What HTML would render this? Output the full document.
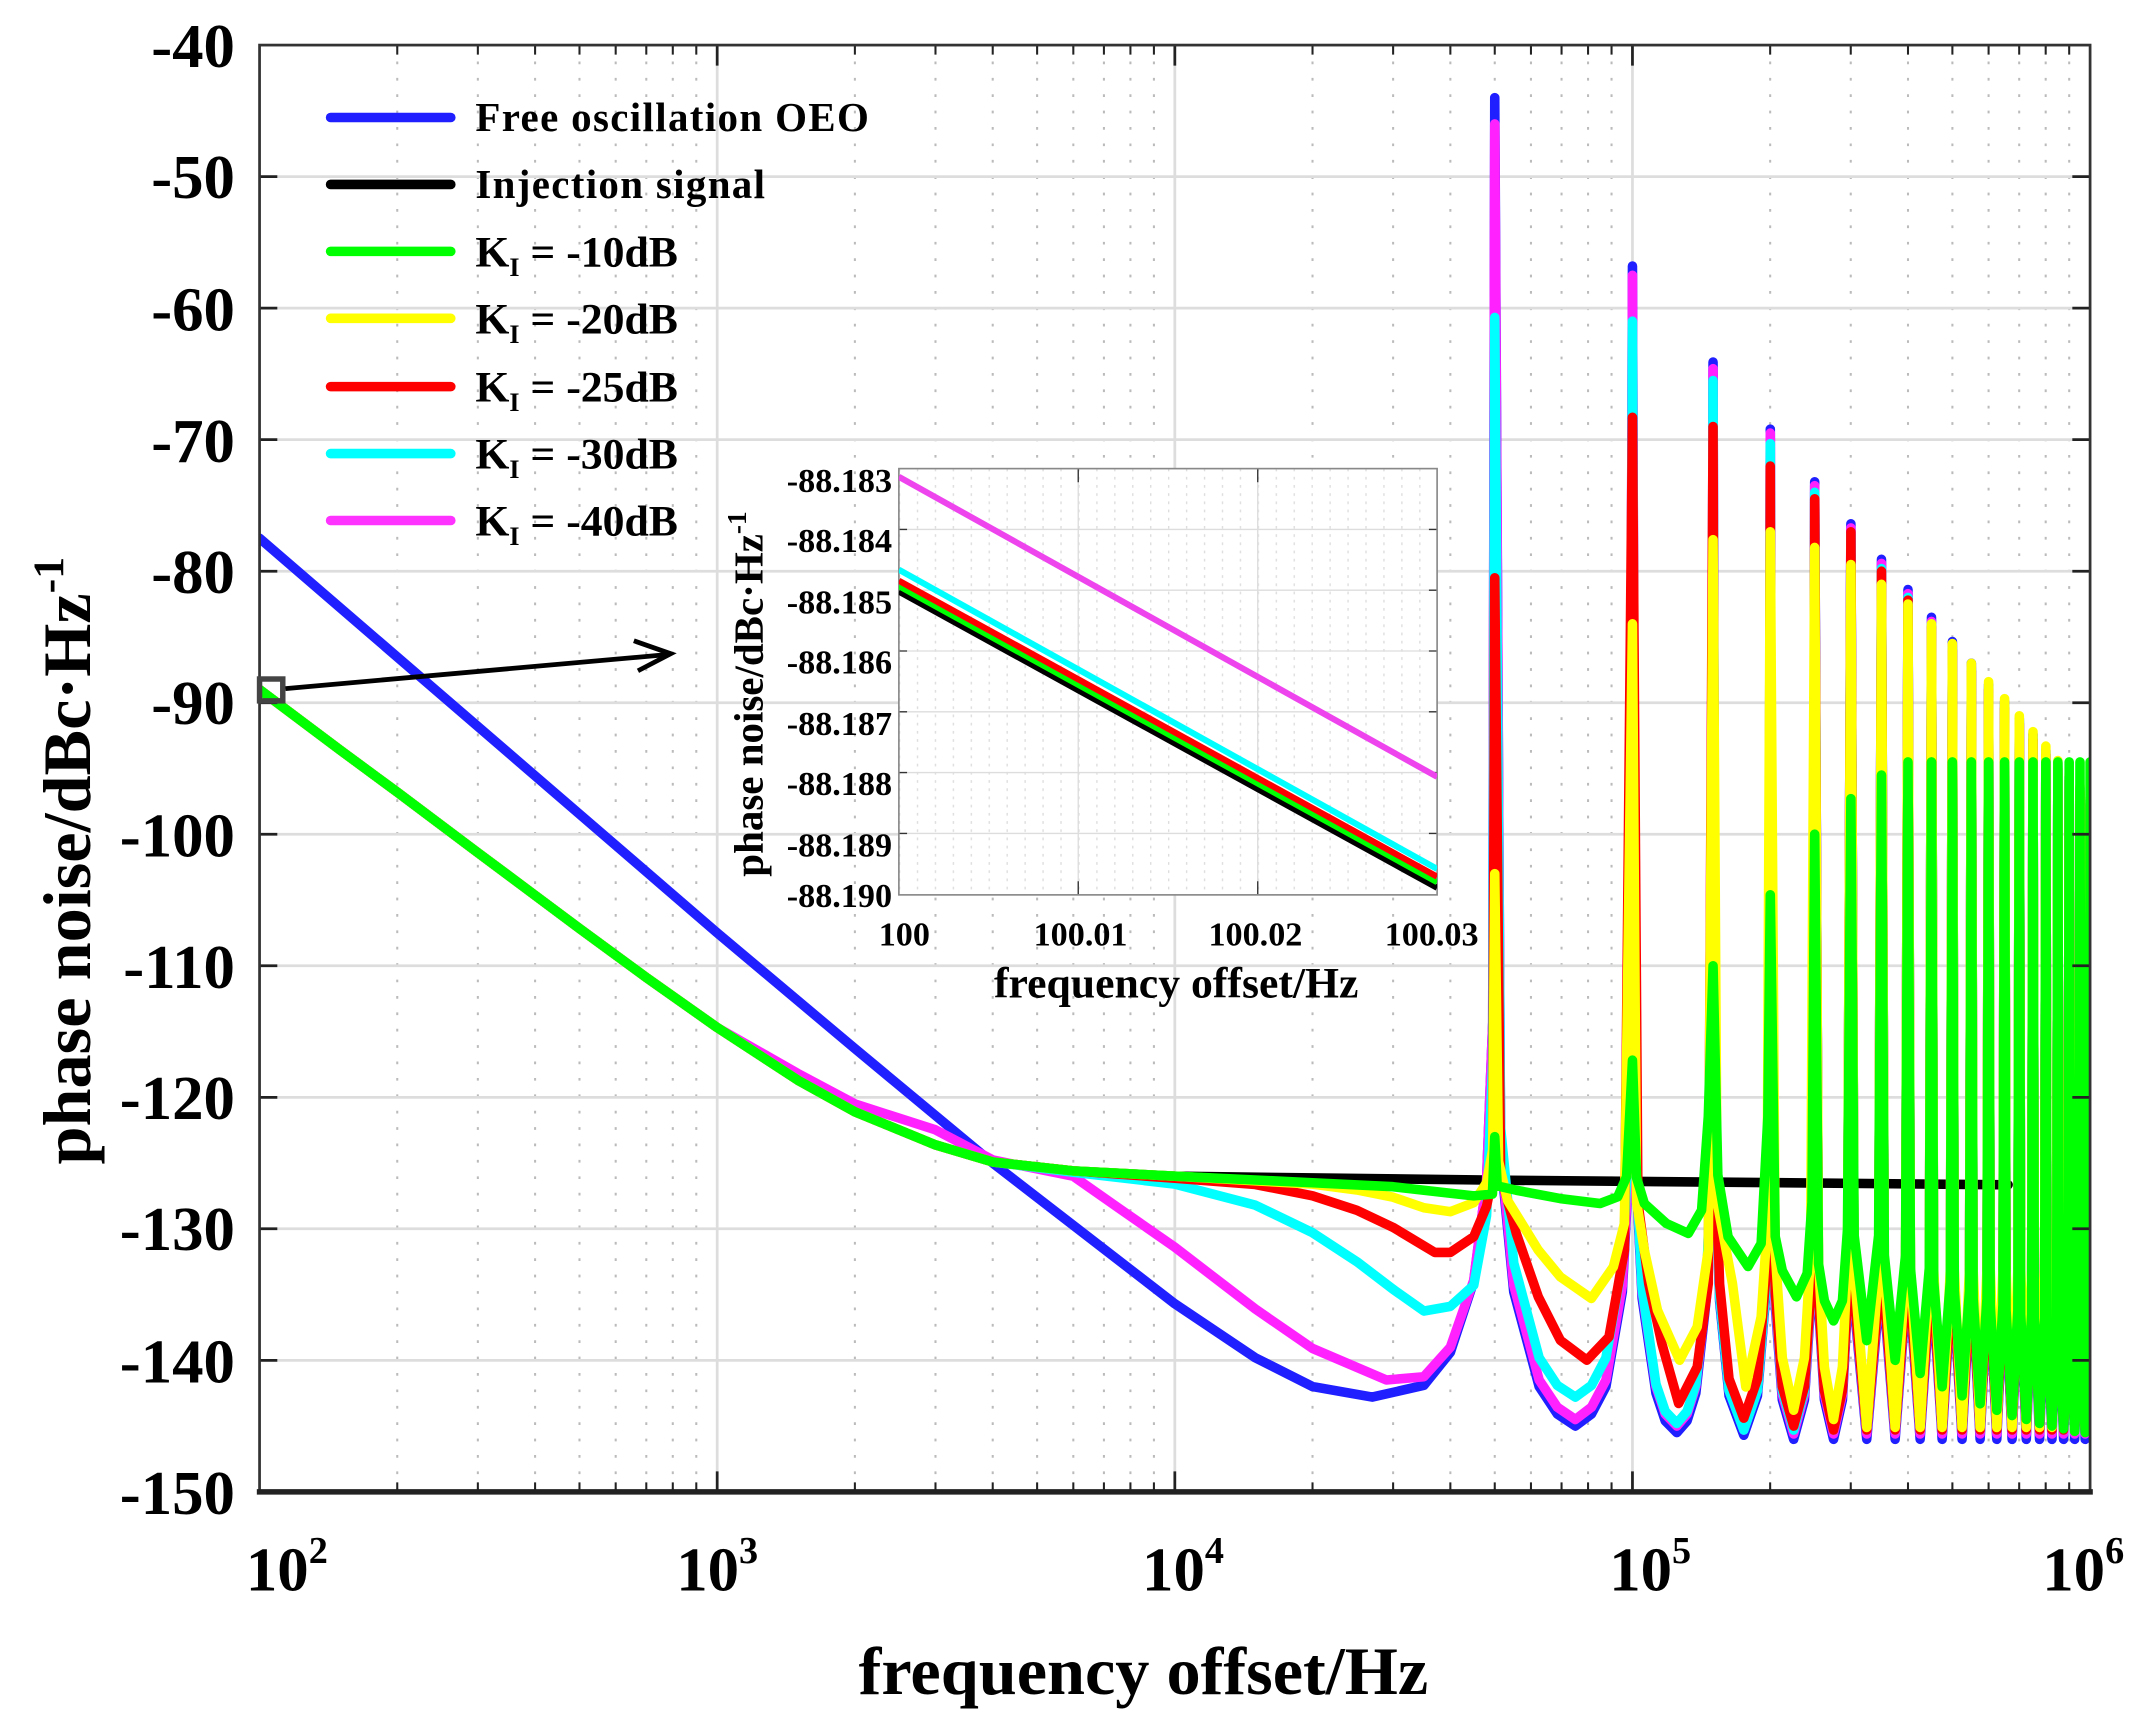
<!DOCTYPE html>
<html><head><meta charset="utf-8"><style>
html,body{margin:0;padding:0;background:#fff;}
svg{display:block;}
text{font-family:"Liberation Serif","Times New Roman",serif;font-weight:bold;fill:#000;}
</style></head><body>
<svg width="2142" height="1731" viewBox="0 0 1568 1267" preserveAspectRatio="none" xmlns="http://www.w3.org/2000/svg">
<defs>
<clipPath id="cp"><rect x="190" y="33" width="1340" height="1059"/></clipPath>
<clipPath id="cpi"><rect x="658" y="343" width="394" height="312"/></clipPath>
<pattern id="ip" x="658" y="343" width="13.133" height="6" patternUnits="userSpaceOnUse"><rect x="0" y="0" width="1" height="2" fill="#ddd"/></pattern>
</defs>
<rect x="0" y="0" width="1568" height="1267" fill="#fff"/>
<!-- grid -->
<path fill="none" stroke="#bbb" stroke-width="1.5" stroke-dasharray="2,10" d="M290.8 33V1092M349.8 33V1092M391.7 33V1092M424.2 33V1092M450.7 33V1092M473.1 33V1092M492.5 33V1092M509.7 33V1092M625.8 33V1092M684.8 33V1092M726.7 33V1092M759.2 33V1092M785.7 33V1092M808.1 33V1092M827.5 33V1092M844.7 33V1092M960.8 33V1092M1019.8 33V1092M1061.7 33V1092M1094.2 33V1092M1120.7 33V1092M1143.1 33V1092M1162.5 33V1092M1179.7 33V1092M1295.8 33V1092M1354.8 33V1092M1396.7 33V1092M1429.2 33V1092M1455.7 33V1092M1478.1 33V1092M1497.5 33V1092M1514.7 33V1092"/>
<path fill="none" stroke="#ddd" stroke-width="2" d="M525 33V1092M860 33V1092M1195 33V1092M190 129.3H1530M190 225.5H1530M190 321.8H1530M190 418.1H1530M190 514.4H1530M190 610.6H1530M190 706.9H1530M190 803.2H1530M190 899.4H1530M190 995.7H1530"/>
<!-- curves -->
<g clip-path="url(#cp)" fill="none" stroke-width="7" stroke-linejoin="round" stroke-linecap="round">
<path stroke="#1f1fff" d="M190,394 L525,682.8 L625.8,767.5 L726.7,851.3 L860,954.3 L918.9,993.8 L960.8,1014.9 L1004.5,1022.6 L1042.3,1014 L1061.7,989.9 L1078.8,937.9 L1088.2,863.8 L1092.7,748.3 L1094.2,71.5 L1098.5,846.5 L1108.1,945.6 L1126.7,1014.9 L1140,1035 L1153.2,1043.8 L1165,1035 L1175.6,1014.9 L1187.6,945.6 L1192.8,846.5 L1195,194.7 L1197.2,851.3 L1202.1,950.4 L1212.2,1019.7 L1219,1040 L1227.5,1048.6 L1235,1040 L1241.4,1019.7 L1249.1,950.4 L1252.6,851.3 L1254,265 L1255.5,853.2 L1258.8,952.4 L1265.7,1021.6 L1276.5,1050.5 L1286.5,1021.6 L1292.2,952.4 L1294.8,853.2 L1295.9,314.1 L1297,856.1 L1299.5,955.3 L1304.7,1024.6 L1313,1053.5 L1320.9,1024.6 L1325.4,955.3 L1327.5,856.1 L1328.4,352.6 L1331.2,955.3 L1335.5,1024.6 L1342.2,1053.5 L1348.7,1024.6 L1352.4,955.3 L1354.9,383.4 L1357.3,955.3 L1366.5,1053.5 L1375.2,955.3 L1377.3,409.4 L1379.4,955.3 L1387.3,1053.5 L1394.9,955.3 L1396.7,431.5 L1398.5,955.3 L1405.6,1053.5 L1412.3,955.3 L1413.9,451.8 L1415.5,955.3 L1421.7,1053.5 L1427.7,955.3 L1429.2,469.6 L1430.6,955.3 L1436.3,1053.5 L1441.7,955.3 L1443.1,485.4 L1444.4,955.3 L1449.5,1053.5 L1454.5,955.3 L1455.7,500.9 L1456.9,955.3 L1461.7,1053.5 L1466.2,955.3 L1467.4,513.4 L1468.5,955.3 L1472.9,1053.5 L1477.1,955.3 L1478.2,525.9 L1479.2,955.3 L1483.3,1053.5 L1487.2,955.3 L1488.2,537.4 L1489.2,955.3 L1493,1053.5 L1496.7,955.3 L1497.6,549 L1498.5,955.3 L1502.1,1053.5 L1505.5,955.3 L1506.4,558.6 L1507.2,955.3 L1510.6,1053.5 L1513.9,955.3 L1514.7,568.2 L1515.5,955.3 L1518.7,1053.5 L1521.8,955.3 L1522.6,576.9 L1523.3,955.3 L1526.4,1053.5 L1529.3,955.3 L1530,585.6"/>
<path stroke="#000" d="M190,504.7 L249,549 L290.8,579.8 L349.8,624.1 L424.2,679.6 L473.1,715.5 L525,752.1 L584,790.6 L625.8,813.8 L684.8,838 L726.7,850.5 L785.6,857 L860,860.9 L1094.2,863.8 L1470,867.2"/>
<path stroke="#ff22ff" d="M190,504.7 L249,549 L290.8,579.8 L349.8,624.1 L424.2,679.6 L473.1,715.5 L525,752.1 L584,785.7 L625.8,808 L684.8,827 L726.7,849 L785.6,860.9 L820,885 L860,912.9 L918.9,958.1 L960.8,987 L1014.9,1010.1 L1042.3,1007.7 L1061.7,986.1 L1078.8,937 L1088.2,863.8 L1092.7,748.3 L1094.2,90.7 L1098.5,841.6 L1108.1,940.8 L1126.7,1010.1 L1140,1030 L1153.2,1039 L1165,1030 L1175.6,1010.1 L1187.6,940.8 L1192.8,841.6 L1195,201.5 L1197.2,846.5 L1202.1,945.6 L1212.2,1014.9 L1219,1035 L1227.5,1043.8 L1235,1035 L1241.4,1014.9 L1249.1,945.6 L1252.6,846.5 L1254,269.8 L1255.5,849.4 L1258.8,948.5 L1265.7,1017.8 L1276.5,1046.7 L1286.5,1017.8 L1292.2,948.5 L1294.8,849.4 L1295.9,317 L1297,852.2 L1299.5,951.4 L1304.7,1020.7 L1313,1049.6 L1320.9,1020.7 L1325.4,951.4 L1327.5,852.2 L1328.4,355.5 L1331.2,951.4 L1335.5,1020.7 L1342.2,1049.6 L1348.7,1020.7 L1352.4,951.4 L1354.9,386.4 L1357.3,951.4 L1366.5,1049.6 L1375.2,951.4 L1377.3,412.4 L1379.4,951.4 L1387.3,1049.6 L1394.9,951.4 L1396.7,434.5 L1398.5,951.4 L1405.6,1049.6 L1412.3,951.4 L1413.9,454.8 L1415.5,951.4 L1421.7,1049.6 L1427.7,951.4 L1429.2,472.6 L1430.6,951.4 L1436.3,1049.6 L1441.7,951.4 L1443.1,488.4 L1444.4,951.4 L1449.5,1049.6 L1454.5,951.4 L1455.7,503.9 L1456.9,951.4 L1461.7,1049.6 L1466.2,951.4 L1467.4,516.4 L1468.5,951.4 L1472.9,1049.6 L1477.1,951.4 L1478.2,528.9 L1479.2,951.4 L1483.3,1049.6 L1487.2,951.4 L1488.2,540.4 L1489.2,951.4 L1493,1049.6 L1496.7,951.4 L1497.6,552 L1498.5,951.4 L1502.1,1049.6 L1505.5,951.4 L1506.4,561.6 L1507.2,951.4 L1510.6,1049.6 L1513.9,951.4 L1514.7,571.2 L1515.5,951.4 L1518.7,1049.6 L1521.8,951.4 L1522.6,579.9 L1523.3,951.4 L1526.4,1049.6 L1529.3,951.4 L1530,588.6"/>
<path stroke="#00ffff" d="M190,504.7 L249,549 L290.8,579.8 L349.8,624.1 L424.2,679.6 L473.1,715.5 L525,752.1 L584,790.6 L625.8,813.8 L684.8,838 L726.7,850.5 L785.6,858 L860,866.7 L918.9,882.1 L960.8,902.3 L993.3,923.5 L1019.8,943.7 L1042.3,959.6 L1061.7,956.2 L1078.8,940.8 L1088.2,889.8 L1092.7,777.1 L1094.2,232.3 L1098.5,825.3 L1108.1,924.4 L1126.7,993.8 L1140,1014 L1153.2,1022.6 L1165,1014 L1175.6,993.8 L1187.6,924.4 L1192.8,825.3 L1195,235.1 L1197.2,844.5 L1202.1,943.7 L1212.2,1013 L1219,1033 L1227.5,1041.9 L1235,1033 L1241.4,1013 L1249.1,943.7 L1252.6,844.5 L1254,278.5 L1255.5,849.3 L1258.8,948.5 L1265.7,1017.8 L1276.5,1046.7 L1286.5,1017.8 L1292.2,948.5 L1294.8,849.3 L1295.9,324.7 L1297,849.3 L1299.5,948.5 L1304.7,1017.8 L1313,1046.7 L1320.9,1017.8 L1325.4,948.5 L1327.5,849.3 L1328.4,360.3 L1331.2,948.5 L1335.5,1017.8 L1342.2,1046.7 L1348.7,1017.8 L1352.4,948.5 L1354.9,391.1 L1357.3,948.5 L1366.5,1046.7 L1375.2,948.5 L1377.3,416.1 L1379.4,948.5 L1387.3,1046.7 L1394.9,948.5 L1396.7,437.3 L1398.5,948.5 L1405.6,1046.7 L1412.3,948.5 L1413.9,456.6 L1415.5,948.5 L1421.7,1046.7 L1427.7,948.5 L1429.2,473.9 L1430.6,948.5 L1436.3,1046.7 L1441.7,948.5 L1443.1,489.3 L1444.4,948.5 L1449.5,1046.7 L1454.5,948.5 L1455.7,503.7 L1456.9,948.5 L1461.7,1046.7 L1466.2,948.5 L1467.4,516.3 L1468.5,948.5 L1472.9,1046.7 L1477.1,948.5 L1478.2,527.8 L1479.2,948.5 L1483.3,1046.7 L1487.2,948.5 L1488.2,539.4 L1489.2,948.5 L1493,1046.7 L1496.7,948.5 L1497.6,550 L1498.5,948.5 L1502.1,1046.7 L1505.5,948.5 L1506.4,560.5 L1507.2,948.5 L1510.6,1046.7 L1513.9,948.5 L1514.7,569.2 L1515.5,948.5 L1518.7,1046.7 L1521.8,948.5 L1522.6,577.8 L1523.3,948.5 L1526.4,1046.7 L1529.3,948.5 L1530,586.5"/>
<path stroke="#ff0000" d="M190,504.7 L249,549 L290.8,579.8 L349.8,624.1 L424.2,679.6 L473.1,715.5 L525,752.1 L584,790.6 L625.8,813.8 L684.8,838 L726.7,850.5 L785.6,857 L860,862.4 L918.9,867 L960.8,875.3 L993.3,885.9 L1019.8,898.4 L1042.3,911.9 L1050.3,916.7 L1061.7,916.7 L1078.8,905.2 L1088.2,883 L1092.7,861 L1094.2,422.9 L1098.5,860 L1110,902.9 L1126.1,949.3 L1142.2,981 L1161.6,995.6 L1177.8,978.6 L1189.1,915.1 L1195,305.4 L1199,880 L1206.9,939.5 L1216.5,983.4 L1228.8,1027.3 L1242.4,1000.5 L1250.5,939.5 L1254,312.2 L1255.5,840.7 L1258.8,939.8 L1265.7,1009.2 L1276.5,1038 L1286.5,1009.2 L1292.2,939.8 L1294.8,840.7 L1295.9,341.1 L1297,846.5 L1299.5,945.6 L1304.7,1014.9 L1313,1043.8 L1320.9,1014.9 L1325.4,945.6 L1327.5,846.5 L1328.4,365.1 L1331.2,948.5 L1335.5,1017.8 L1342.2,1046.7 L1348.7,1017.8 L1352.4,948.5 L1354.9,389.2 L1357.3,948.5 L1366.5,1046.7 L1375.2,948.5 L1377.3,418.1 L1379.4,948.5 L1387.3,1046.7 L1394.9,948.5 L1396.7,439.3 L1398.5,948.5 L1405.6,1046.7 L1412.3,948.5 L1413.9,458.5 L1415.5,948.5 L1421.7,1046.7 L1427.7,948.5 L1429.2,475.8 L1430.6,948.5 L1436.3,1046.7 L1441.7,948.5 L1443.1,491.2 L1444.4,948.5 L1449.5,1046.7 L1454.5,948.5 L1455.7,504.7 L1456.9,948.5 L1461.7,1046.7 L1466.2,948.5 L1467.4,518.2 L1468.5,948.5 L1472.9,1046.7 L1477.1,948.5 L1478.2,529.7 L1479.2,948.5 L1483.3,1046.7 L1487.2,948.5 L1488.2,541.3 L1489.2,948.5 L1493,1046.7 L1496.7,948.5 L1497.6,551.9 L1498.5,948.5 L1502.1,1046.7 L1505.5,948.5 L1506.4,562.5 L1507.2,948.5 L1510.6,1046.7 L1513.9,948.5 L1514.7,571.1 L1515.5,948.5 L1518.7,1046.7 L1521.8,948.5 L1522.6,579.8 L1523.3,948.5 L1526.4,1046.7 L1529.3,948.5 L1530,588.5"/>
<path stroke="#ffff00" d="M190,504.7 L249,549 L290.8,579.8 L349.8,624.1 L424.2,679.6 L473.1,715.5 L525,752.1 L584,790.6 L625.8,813.8 L684.8,838 L726.7,850.5 L785.6,857 L860,860.9 L960.8,866.7 L993.3,871 L1019.8,876.3 L1042.3,884 L1061.7,886.9 L1078.8,880.3 L1088.2,865.7 L1092.7,841.6 L1094.2,639.5 L1097,850 L1103.5,878.5 L1126.1,915.1 L1142.2,934.6 L1164.9,950.4 L1181,927.3 L1189.1,895.5 L1195,456.6 L1198,880 L1203.7,915.1 L1213.3,959 L1229.5,995.6 L1242.4,971.2 L1250.5,915.1 L1254,395 L1257,880 L1268.2,939.5 L1278,1015.2 L1289.2,963.9 L1293.5,900 L1295.9,389.2 L1299.5,916.8 L1304.7,993.8 L1313,1032.2 L1320.9,993.8 L1325.4,916.8 L1328.4,400.7 L1331.2,923.5 L1335.5,1000.5 L1342.2,1039 L1348.7,1000.5 L1352.4,923.5 L1354.9,413.2 L1357.3,929.3 L1366.5,1044.8 L1375.2,929.3 L1377.3,427.7 L1379.4,929.3 L1387.3,1044.8 L1394.9,929.3 L1396.7,442.1 L1398.5,929.3 L1405.6,1044.8 L1412.3,929.3 L1413.9,456.6 L1415.5,929.3 L1421.7,1044.8 L1427.7,929.3 L1429.2,471 L1430.6,929.3 L1436.3,1044.8 L1441.7,929.3 L1443.1,485.5 L1444.4,929.3 L1449.5,1044.8 L1454.5,929.3 L1455.7,498.9 L1456.9,929.3 L1461.7,1044.8 L1466.2,929.3 L1467.4,511.4 L1468.5,929.3 L1472.9,1044.8 L1477.1,929.3 L1478.2,523.9 L1479.2,929.3 L1483.3,1044.8 L1487.2,929.3 L1488.2,535.5 L1489.2,929.3 L1493,1044.8 L1496.7,929.3 L1497.6,546.1 L1498.5,929.3 L1502.1,1044.8 L1505.5,929.3 L1506.4,556.7 L1507.2,929.3 L1510.6,1044.8 L1513.9,929.3 L1514.7,566.3 L1515.5,929.3 L1518.7,1044.8 L1521.8,929.3 L1522.6,575 L1523.3,929.3 L1526.4,1044.8 L1529.3,929.3 L1530,583.6"/>
<path stroke="#00ff00" d="M190,504.7 L249,549 L290.8,579.8 L349.8,624.1 L424.2,679.6 L473.1,715.5 L525,752.1 L584,790.6 L625.8,813.8 L684.8,838 L726.7,850.5 L785.6,857 L860,860.9 L960.8,865.7 L1019.8,868.6 L1061.7,873.4 L1078.8,875.3 L1092.5,874 L1094.2,832 L1096,868 L1110,871.2 L1142.2,877.3 L1171.3,880.9 L1184.2,876 L1190.7,861.4 L1195,776 L1198,862 L1203.7,880.9 L1219.8,895.5 L1235.9,902.8 L1245.6,885.8 L1250.5,817.5 L1254,706.9 L1257.5,860 L1265,905.3 L1279.6,927 L1289.2,910.2 L1294.1,817.5 L1295.9,654.9 L1299.5,905 L1304.7,930 L1315.1,949.2 L1322.9,932 L1326.4,880 L1328.4,610.6 L1331.2,925 L1335.5,952 L1342.2,966.8 L1348.7,952 L1352.4,900 L1354.9,584.6 L1357.3,904.3 L1366.5,981.3 L1375.2,904.3 L1377.3,567.3 L1379.4,918.7 L1387.3,995.7 L1394.9,918.7 L1396.7,557.7 L1398.5,928.3 L1405.6,1005.3 L1412.3,928.3 L1413.9,557.7 L1415.5,938 L1421.7,1015 L1427.7,938 L1429.2,557.7 L1430.6,944.7 L1436.3,1021.7 L1441.7,944.7 L1443.1,557.7 L1444.4,950.5 L1449.5,1027.5 L1454.5,950.5 L1455.7,557.7 L1456.9,955.3 L1461.7,1032.3 L1466.2,955.3 L1467.4,557.7 L1468.5,959.1 L1472.9,1036.1 L1477.1,959.1 L1478.2,557.7 L1479.2,962 L1483.3,1039 L1487.2,962 L1488.2,557.7 L1489.2,964.9 L1493,1041.9 L1496.7,964.9 L1497.6,557.7 L1498.5,966.8 L1502.1,1043.8 L1505.5,966.8 L1506.4,557.7 L1507.2,968.8 L1510.6,1045.8 L1513.9,968.8 L1514.7,557.7 L1515.5,970.7 L1518.7,1047.7 L1521.8,970.7 L1522.6,557.7 L1523.3,971.6 L1526.4,1048.6 L1529.3,971.6 L1530,557.7"/>
</g>
<!-- axes -->
<path fill="none" stroke="#222" stroke-width="1.5" d="M290.8 1092v-7M349.8 1092v-7M391.7 1092v-7M424.2 1092v-7M450.7 1092v-7M473.1 1092v-7M492.5 1092v-7M509.7 1092v-7M625.8 1092v-7M684.8 1092v-7M726.7 1092v-7M759.2 1092v-7M785.7 1092v-7M808.1 1092v-7M827.5 1092v-7M844.7 1092v-7M960.8 1092v-7M1019.8 1092v-7M1061.7 1092v-7M1094.2 1092v-7M1120.7 1092v-7M1143.1 1092v-7M1162.5 1092v-7M1179.7 1092v-7M1295.8 1092v-7M1354.8 1092v-7M1396.7 1092v-7M1429.2 1092v-7M1455.7 1092v-7M1478.1 1092v-7M1497.5 1092v-7M1514.7 1092v-7M290.8 33v7M349.8 33v7M391.7 33v7M424.2 33v7M450.7 33v7M473.1 33v7M492.5 33v7M509.7 33v7M625.8 33v7M684.8 33v7M726.7 33v7M759.2 33v7M785.7 33v7M808.1 33v7M827.5 33v7M844.7 33v7M960.8 33v7M1019.8 33v7M1061.7 33v7M1094.2 33v7M1120.7 33v7M1143.1 33v7M1162.5 33v7M1179.7 33v7M1295.8 33v7M1354.8 33v7M1396.7 33v7M1429.2 33v7M1455.7 33v7M1478.1 33v7M1497.5 33v7M1514.7 33v7"/>
<path fill="none" stroke="#222" stroke-width="2" d="M525 1092v-15M860 1092v-15M1195 1092v-15M525 33v15M860 33v15M1195 33v15M190 129.3h13M190 225.5h13M190 321.8h13M190 418.1h13M190 514.4h13M190 610.6h13M190 706.9h13M190 803.2h13M190 899.4h13M190 995.7h13M1530 129.3h-13M1530 225.5h-13M1530 321.8h-13M1530 418.1h-13M1530 514.4h-13M1530 610.6h-13M1530 706.9h-13M1530 803.2h-13M1530 899.4h-13M1530 995.7h-13"/>
<rect x="190" y="33" width="1340" height="1059" fill="none" stroke="#333" stroke-width="2"/>
<line x1="188" y1="1092" x2="1532" y2="1092" stroke="#222" stroke-width="4"/>
<!-- legend -->
<g stroke-width="7" stroke-linecap="round">
<line x1="242" y1="86" x2="330" y2="86" stroke="#1f1fff"/>
<line x1="242" y1="135" x2="330" y2="135" stroke="#000"/>
<line x1="242" y1="184" x2="330" y2="184" stroke="#00ff00"/>
<line x1="242" y1="233" x2="330" y2="233" stroke="#ffff00"/>
<line x1="242" y1="283" x2="330" y2="283" stroke="#ff0000"/>
<line x1="242" y1="332" x2="330" y2="332" stroke="#00ffff"/>
<line x1="242" y1="381" x2="330" y2="381" stroke="#ff33ff"/>
</g>
<g font-size="30">
<text x="348" y="96" textLength="288">Free oscillation OEO</text>
<text x="348" y="145" textLength="212">Injection signal</text>
</g>
<g font-size="32">
<text x="348" y="195">K<tspan font-size="19" dy="7">I</tspan><tspan dy="-7"> = -10dB</tspan></text>
<text x="348" y="244">K<tspan font-size="19" dy="7">I</tspan><tspan dy="-7"> = -20dB</tspan></text>
<text x="348" y="294">K<tspan font-size="19" dy="7">I</tspan><tspan dy="-7"> = -25dB</tspan></text>
<text x="348" y="343">K<tspan font-size="19" dy="7">I</tspan><tspan dy="-7"> = -30dB</tspan></text>
<text x="348" y="392">K<tspan font-size="19" dy="7">I</tspan><tspan dy="-7"> = -40dB</tspan></text>
</g>
<!-- inset -->
<rect x="658" y="343" width="394" height="312" fill="#fff"/>
<rect x="658" y="343" width="394" height="312" fill="url(#ip)"/>
<path fill="none" stroke="#ddd" stroke-width="1" d="M658 387.5H1052M658 432H1052M658 476.5H1052M658 521H1052M658 565.5H1052M658 610H1052M789.3 343V655M920.7 343V655"/>
<path fill="none" stroke="#333" stroke-width="1" d="M658 387.5h6M658 432h6M658 476.5h6M658 521h6M658 565.5h6M658 610h6M1052 387.5h-6M1052 432h-6M1052 476.5h-6M1052 521h-6M1052 565.5h-6M1052 610h-6M789.3 655v-10M920.7 655v-10M789.3 343v10M920.7 343v10"/>
<rect x="658" y="343" width="394" height="312" fill="none" stroke="#888" stroke-width="1.2"/>
<g clip-path="url(#cpi)" stroke-width="4.5">
<line x1="658" y1="349" x2="1052" y2="568.6" stroke="#ee44ee"/>
<line x1="658" y1="417" x2="1052" y2="636" stroke="#00ffff"/>
<line x1="658" y1="433" x2="1052" y2="649.8" stroke="#000"/>
<line x1="658" y1="429" x2="1052" y2="645.7" stroke="#00ff00"/>
<line x1="658" y1="425" x2="1052" y2="641.7" stroke="#ff0000"/>
</g>
<g font-size="25" text-anchor="end">
<text x="653" y="360">-88.183</text><text x="653" y="404">-88.184</text><text x="653" y="449">-88.185</text><text x="653" y="493">-88.186</text><text x="653" y="538">-88.187</text><text x="653" y="582">-88.188</text><text x="653" y="627">-88.189</text><text x="653" y="664">-88.190</text>
</g>
<g font-size="25" text-anchor="middle">
<text x="662" y="692">100</text><text x="791" y="692">100.01</text><text x="919" y="692">100.02</text><text x="1048" y="692">100.03</text>
</g>
<text x="861" y="730" font-size="32" text-anchor="middle">frequency offset/Hz</text>
<text transform="translate(558,508) rotate(-90)" font-size="30" text-anchor="middle">phase noise/dBc·Hz<tspan font-size="20" dy="-12">-1</tspan></text>
<!-- marker and arrow -->
<rect x="190" y="497" width="17" height="16" fill="none" stroke="#444" stroke-width="4"/>
<line x1="209" y1="504" x2="490" y2="479" stroke="#000" stroke-width="3.5"/>
<polyline points="464,469 491,478.5 467,491" fill="none" stroke="#000" stroke-width="3.5"/>
<!-- axis labels -->
<g font-size="46" text-anchor="end">
<text x="172" y="49">-40</text><text x="172" y="145">-50</text><text x="172" y="242">-60</text><text x="172" y="338">-70</text><text x="172" y="434">-80</text><text x="172" y="530">-90</text><text x="172" y="627">-100</text><text x="172" y="723">-110</text><text x="172" y="819">-120</text><text x="172" y="915">-130</text><text x="172" y="1012">-140</text><text x="172" y="1108">-150</text>
</g>
<g font-size="46">
<text x="180" y="1164">10<tspan font-size="28" dy="-20">2</tspan></text>
<text x="495" y="1164">10<tspan font-size="28" dy="-20">3</tspan></text>
<text x="836" y="1164">10<tspan font-size="28" dy="-20">4</tspan></text>
<text x="1178" y="1164">10<tspan font-size="28" dy="-20">5</tspan></text>
<text x="1495" y="1164">10<tspan font-size="28" dy="-20">6</tspan></text>
</g>
<text x="837" y="1240" font-size="50" text-anchor="middle">frequency offset/Hz</text>
<text transform="translate(66,630) rotate(-90)" font-size="50" text-anchor="middle">phase noise/dBc·Hz<tspan font-size="32" dy="-20">-1</tspan></text>
</svg>
</body></html>
